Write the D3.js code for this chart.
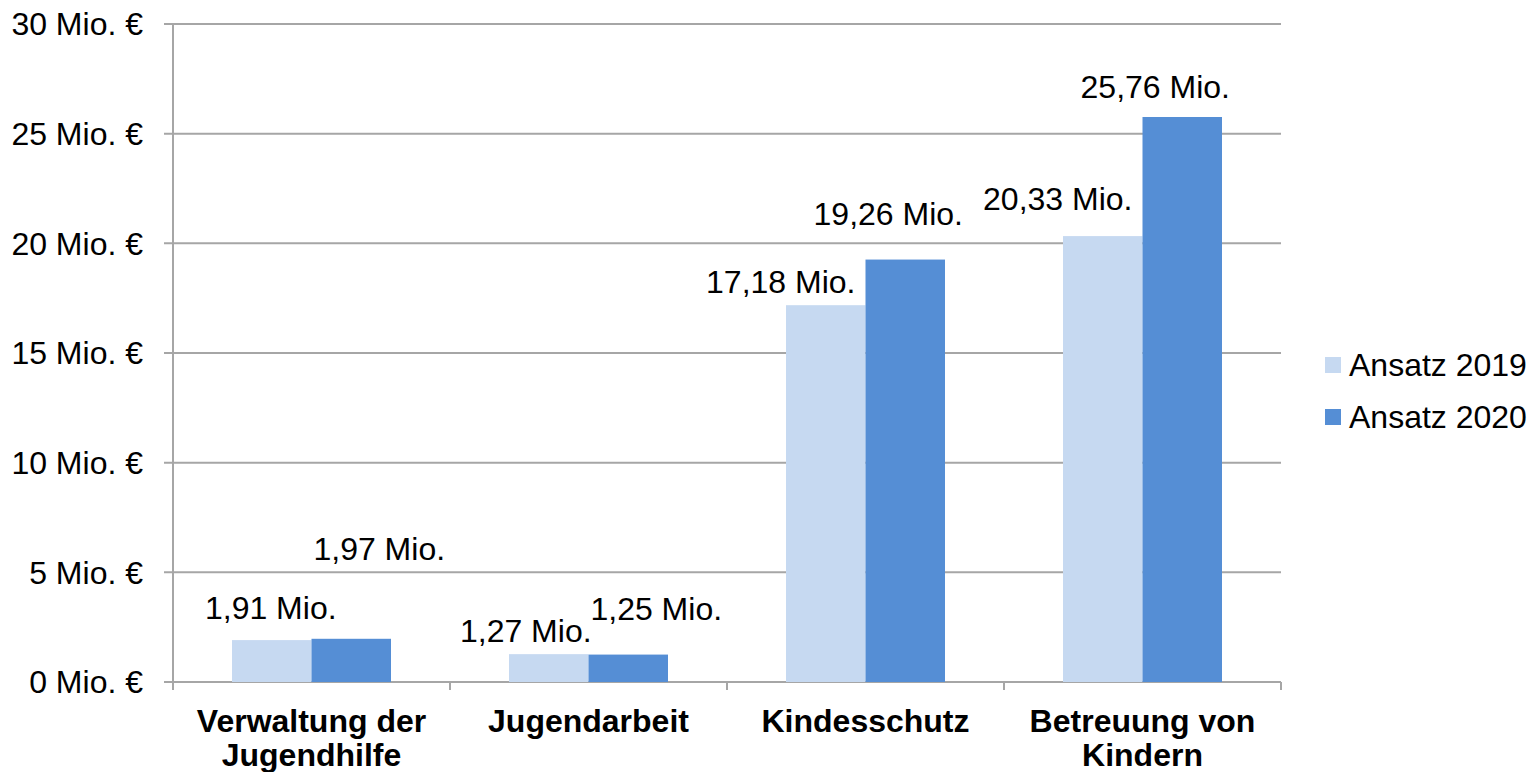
<!DOCTYPE html>
<html>
<head>
<meta charset="utf-8">
<script src="https://cdn.jsdelivr.net/npm/d3@7"></script>
<style>
  html, body { margin: 0; padding: 0; background: #fff; }
  svg { display: block; font-family: "Liberation Sans", Arial, sans-serif; }
</style>
</head>
<body>
<div id="chart"></div>
<script>
// Data
const categories = [["Verwaltung der", "Jugendhilfe"], ["Jugendarbeit"], ["Kindesschutz"], ["Betreuung von", "Kindern"]];
const seriesNames = ["Ansatz 2019", "Ansatz 2020"];
const values2019 = [1.91, 1.27, 17.18, 20.33];
const values2020 = [1.97, 1.25, 19.26, 25.76];
const yTicks = [0, 5, 10, 15, 20, 25, 30];

// label nudges (dx, dy from bar top centre), as placed in the original
const nudge2019 = [[-1, -21], [-23, -12], [-45, -12], [-45, -26]];
const nudge2020 = [[28, -79], [28, -35], [-17, -35], [-27, -19]];

const colors = ["#C6D9F1", "#558ED5"];
const fontSize = 32;

const W = 1533, H = 772;
const margin = { top: 24, right: 252, bottom: 90, left: 173 };
const width = W - margin.left - margin.right,
      height = H - margin.top - margin.bottom;

const svg = d3.select("#chart")
  .append("svg")
  .attr("width", W)
  .attr("height", H)
  .append("g")
  .attr("transform", `translate(${margin.left},${margin.top})`);

const x = d3.scaleBand()
  .domain(d3.range(categories.length))
  .range([0, width])
  .paddingInner(0)
  .paddingOuter(0);

const inner = d3.scaleBand()
  .domain([0, 1])
  .range([59, x.bandwidth() - 59]);

const y = d3.scaleLinear()
  .domain([0, 30])
  .range([height, 0]);

// gridlines
svg.append("g")
  .selectAll("line")
  .data(yTicks)
  .enter()
  .append("line")
  .attr("x1", -9)
  .attr("x2", width)
  .attr("y1", d => y(d))
  .attr("y2", d => y(d))
  .attr("stroke", "#A6A6A6")
  .attr("stroke-width", 2);

// y labels
svg.append("g")
  .selectAll("text")
  .data(yTicks)
  .enter()
  .append("text")
  .attr("x", -30)
  .attr("y", d => y(d))
  .attr("dy", "0.35em")
  .attr("text-anchor", "end")
  .attr("font-size", fontSize)
  .attr("fill", "#000")
  .text(d => `${d} Mio. €`);

// y axis line
svg.append("line")
  .attr("x1", 0).attr("x2", 0)
  .attr("y1", 0).attr("y2", height + 8)
  .attr("stroke", "#A6A6A6")
  .attr("stroke-width", 2);

// x ticks
svg.append("g")
  .selectAll("line")
  .data(d3.range(categories.length + 1))
  .enter()
  .append("line")
  .attr("x1", d => d * x.bandwidth())
  .attr("x2", d => d * x.bandwidth())
  .attr("y1", height)
  .attr("y2", height + 8)
  .attr("stroke", "#A6A6A6")
  .attr("stroke-width", 2);

// bars
const series = [values2019, values2020];
const nudges = [nudge2019, nudge2020];
series.forEach((vals, s) => {
  svg.append("g")
    .selectAll("rect")
    .data(vals)
    .enter()
    .append("rect")
    .attr("x", (d, i) => x(i) + inner(s))
    .attr("y", d => y(d))
    .attr("width", inner.bandwidth())
    .attr("height", d => height - y(d))
    .attr("fill", colors[s]);

  svg.append("g")
    .selectAll("text")
    .data(vals)
    .enter()
    .append("text")
    .attr("x", (d, i) => x(i) + inner(s) + inner.bandwidth() / 2 + nudges[s][i][0])
    .attr("y", (d, i) => y(d) + nudges[s][i][1])
    .attr("text-anchor", "middle")
    .attr("font-size", fontSize)
    .attr("fill", "#000")
    .text(d => d.toFixed(2).replace(".", ",") + " Mio.");
});

// category labels
const cat = svg.append("g")
  .selectAll("text")
  .data(categories)
  .enter()
  .append("text")
  .attr("x", (d, i) => x(i) + x.bandwidth() / 2)
  .attr("y", height + 50)
  .attr("text-anchor", "middle")
  .attr("font-size", fontSize)
  .attr("font-weight", "bold")
  .attr("fill", "#000");

cat.selectAll("tspan")
  .data(d => d)
  .enter()
  .append("tspan")
  .attr("x", function () { return d3.select(this.parentNode).attr("x"); })
  .attr("dy", (d, i) => i === 0 ? 0 : 34)
  .text(d => d);

// legend
const legend = svg.append("g")
  .attr("transform", `translate(${width + 44},${333})`);

seriesNames.forEach((name, i) => {
  const g = legend.append("g").attr("transform", `translate(0,${i * 52})`);
  g.append("rect")
    .attr("x", 0).attr("y", 0)
    .attr("width", 16).attr("height", 16)
    .attr("fill", colors[i]);
  g.append("text")
    .attr("x", 24)
    .attr("y", 19)
    .attr("font-size", fontSize)
    .attr("fill", "#000")
    .text(name);
});
</script>
</body>
</html>
